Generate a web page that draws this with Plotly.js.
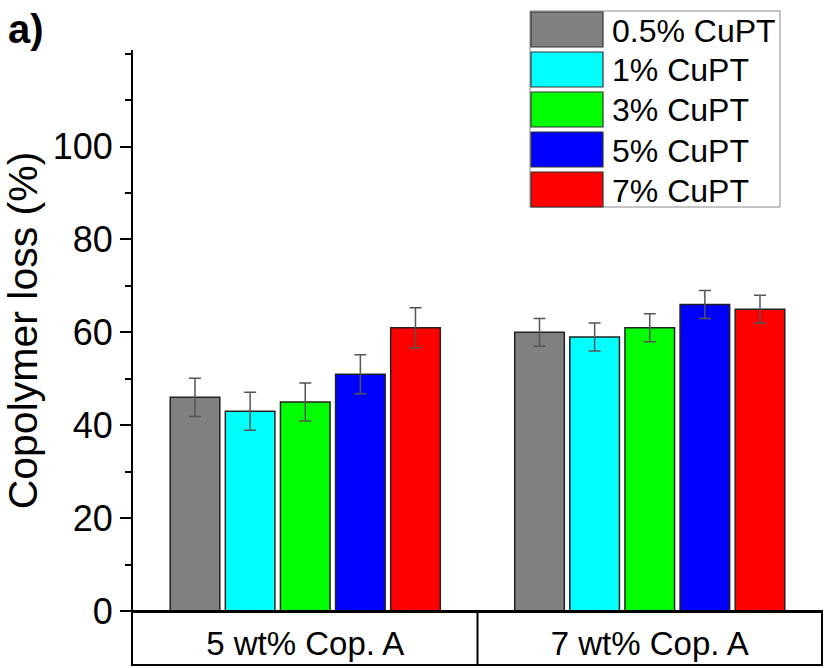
<!DOCTYPE html>
<html>
<head>
<meta charset="utf-8">
<script src="https://cdn.plot.ly/plotly-3.0.1.min.js"></script>
<style>html,body{margin:0;padding:0;background:#fff;}#chart{width:825px;height:668px;}</style>
</head>
<body>
<div id="chart"></div>
<script>
// ---- data ----
const categories = ["5 wt% Cop. A", "7 wt% Cop. A"];
const seriesNames = ["0.5% CuPT", "1% CuPT", "3% CuPT", "5% CuPT", "7% CuPT"];
const seriesColors = ["#808080", "#00ffff", "#00ff00", "#0000ff", "#ff0000"];
const cupt05 = [46, 60];
const cupt1 = [43, 59];
const cupt3 = [45, 61];
const cupt5 = [51, 66];
const cupt7 = [61, 65];
const err05 = [4.1, 3.0];
const err1 = [4.1, 3.0];
const err3 = [4.1, 3.0];
const err5 = [4.2, 3.0];
const err7 = [4.3, 3.0];
const yTickVals = [0, 20, 40, 60, 80, 100];

const values = [cupt05, cupt1, cupt3, cupt5, cupt7];
const errors = [err05, err1, err3, err5, err7];

const FONT = "Liberation Sans, Arial, sans-serif";
const W = 825, H = 668;
const M = {l: 133, r: 3, t: 50, b: 57};
const PW = W - M.l - M.r, PH = H - M.t - M.b;
const px2x = p => (p - M.l) / PW;
const py2y = p => (H - M.b - p) / PH;

const traces = seriesNames.map((name, i) => ({
  type: "bar",
  name: name,
  x: categories,
  y: values[i],
  marker: {color: seriesColors[i], line: {color: "#222", width: 1.5}},
  error_y: {type: "data", array: errors[i], visible: true, color: "#555", thickness: 1.5, width: 6},
  hoverinfo: "skip"
}));

// custom legend built from series names/colors
const shapes = [];
const annotations = [];
const legX0 = 530, legX1 = 780, legY0 = 11, legY1 = 207;
shapes.push({type: "rect", xref: "paper", yref: "paper", x0: px2x(legX0), x1: px2x(legX1), y0: py2y(legY1), y1: py2y(legY0), line: {color: "#888", width: 1}, fillcolor: "#fff", layer: "above"});
seriesNames.forEach((name, i) => {
  const top = 12 + i * 40, bot = top + 35;
  shapes.push({type: "rect", xref: "paper", yref: "paper", x0: px2x(531), x1: px2x(603), y0: py2y(bot), y1: py2y(top), fillcolor: seriesColors[i], line: {color: "#333", width: 1.2}, layer: "above"});
  annotations.push({xref: "paper", yref: "paper", x: px2x(610), y: py2y((top + bot) / 2 + 1), xanchor: "left", yanchor: "middle", text: name, showarrow: false, font: {family: FONT, size: 32, color: "#000"}});
});

// category box under the axis
shapes.push({type: "rect", xref: "paper", yref: "paper", x0: px2x(132), x1: px2x(822), y0: py2y(665), y1: 0, line: {color: "#000", width: 2}, layer: "above"});
shapes.push({type: "line", xref: "x", yref: "paper", x0: 0.5, x1: 0.5, y0: py2y(665), y1: 0, line: {color: "#000", width: 2}, layer: "above"});

annotations.push({xref: "paper", yref: "paper", x: px2x(6), y: py2y(29), xanchor: "left", yanchor: "middle", text: "<b>a)</b>", showarrow: false, font: {family: FONT, size: 40, color: "#000"}});

const layout = {
  width: W, height: H,
  margin: M,
  paper_bgcolor: "#fff", plot_bgcolor: "#fff",
  showlegend: false,
  barmode: "group",
  bargap: 0.2,
  bargroupgap: 0.1,
  font: {family: FONT, color: "#000"},
  xaxis: {
    type: "category",
    range: [-0.5, 1.5],
    showline: true, linecolor: "#000", linewidth: 2,
    ticks: "", showgrid: false, zeroline: false,
    tickfont: {family: FONT, size: 33, color: "#000"},
    ticklabelstandoff: 2
  },
  yaxis: {
    range: [0, 120.8],
    tickvals: yTickVals,
    ticks: "outside", ticklen: 11, tickwidth: 2, tickcolor: "#000",
    minor: {dtick: 10, ticks: "outside", ticklen: 6, tickwidth: 2, tickcolor: "#000", showgrid: false},
    showline: true, linecolor: "#000", linewidth: 2,
    showgrid: false, zeroline: false,
    tickfont: {family: FONT, size: 36, color: "#000"},
    title: {text: "Copolymer loss (%)", font: {family: FONT, size: 41, color: "#000"}, standoff: 12}
  },
  shapes: shapes,
  annotations: annotations
};

Plotly.newPlot("chart", traces, layout, {displayModeBar: false, staticPlot: true});
</script>
</body>
</html>
